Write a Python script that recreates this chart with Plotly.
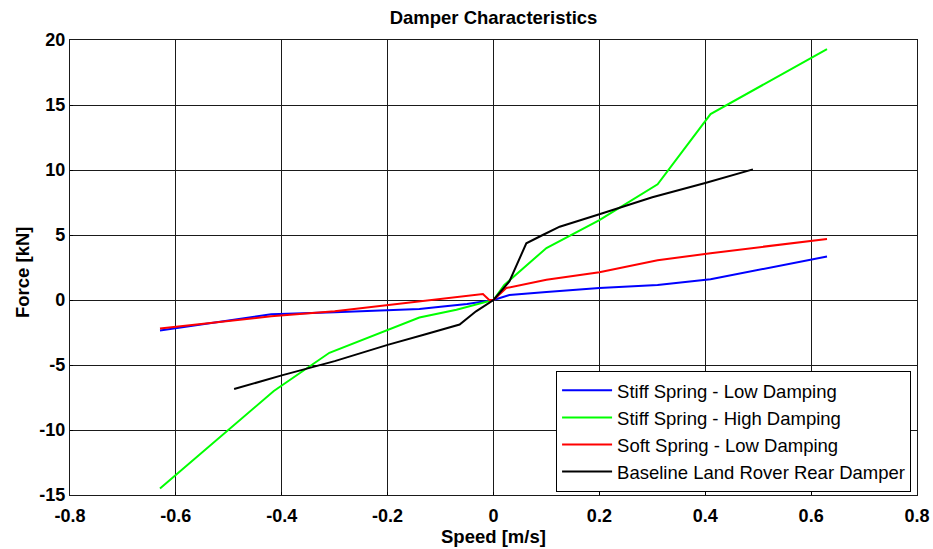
import plotly.graph_objects as go

# Stiff Spring - Low Damping
blue_x = [-0.63, -0.42, -0.30, -0.20, -0.14, -0.10, -0.05, 0.0, 0.03, 0.10, 0.16, 0.20, 0.31, 0.41, 0.63]
blue_y = [-2.35, -1.10, -0.95, -0.82, -0.69, -0.52, -0.30, 0.0, 0.38, 0.62, 0.80, 0.92, 1.15, 1.60, 3.35]

# Stiff Spring - High Damping
green_x = [-0.63, -0.415, -0.31, -0.20, -0.14, -0.07, 0.0, 0.02, 0.10, 0.20, 0.31, 0.41, 0.63]
green_y = [-14.5, -7.0, -4.06, -2.3, -1.35, -0.75, 0.0, 1.15, 4.0, 6.15, 8.9, 14.3, 19.3]

# Soft Spring - Low Damping
red_x = [-0.63, -0.42, -0.30, -0.20, -0.13, -0.02, -0.008, 0.0, 0.024, 0.10, 0.20, 0.31, 0.41, 0.63]
red_y = [-2.2, -1.25, -0.87, -0.38, -0.08, 0.46, 0.0, 0.0, 0.92, 1.55, 2.14, 3.05, 3.6, 4.7]

# Baseline Land Rover Rear Damper
black_x = [-0.49, -0.40, -0.30, -0.20, -0.13, -0.064, -0.033, 0.0, 0.03, 0.062, 0.093, 0.125, 0.20, 0.30, 0.40, 0.49]
black_y = [-6.85, -5.8, -4.7, -3.45, -2.65, -1.89, -0.87, 0.0, 1.43, 4.36, 5.0, 5.64, 6.6, 7.9, 9.0, 10.05]

x_ticks = [-0.8, -0.6, -0.4, -0.2, 0, 0.2, 0.4, 0.6, 0.8]
x_tick_text = ["-0.8", "-0.6", "-0.4", "-0.2", "0", "0.2", "0.4", "0.6", "0.8"]
y_ticks = [-15, -10, -5, 0, 5, 10, 15, 20]

series = [
    ("Stiff Spring - Low Damping", blue_x, blue_y, "#0000ff"),
    ("Stiff Spring - High Damping", green_x, green_y, "#00ff00"),
    ("Soft Spring - Low Damping", red_x, red_y, "#ff0000"),
    ("Baseline Land Rover Rear Damper", black_x, black_y, "#000000"),
]

fig = go.Figure()
for name, xs, ys, col in series:
    fig.add_trace(go.Scatter(x=xs, y=ys, mode="lines", name=name,
                             line=dict(color=col, width=2)))

font_family = "Liberation Sans, Arial, sans-serif"
axis_common = dict(showgrid=True, gridcolor="#1a1a1a", gridwidth=1.4,
                   showline=True, linecolor="#1a1a1a", linewidth=1.4, mirror=True,
                   ticks="inside", ticklen=3, tickcolor="#000000", zeroline=False,
                   automargin=False,
                   tickfont=dict(family=font_family, size=18, color="#000000"))

W, H = 933, 549

fig.update_layout(
    width=W, height=H,
    paper_bgcolor="#ffffff", plot_bgcolor="#ffffff",
    margin=dict(l=70, r=16, t=40, b=54),
    title=dict(text="<b>Damper Characteristics</b>", x=0.5, xref="paper", xanchor="center",
               y=1 - 18 / H, yanchor="middle",
               font=dict(family=font_family, size=18.5, color="#000000")),
    xaxis=dict(range=[-0.8, 0.8], tickvals=x_ticks,
               ticktext=["<b>%s</b>" % t for t in x_tick_text],
               ticklabelstandoff=4,
               **axis_common),
    yaxis=dict(range=[-15, 20], tickvals=y_ticks,
               ticktext=["<b>%d</b>" % t for t in y_ticks],
               **axis_common),
    legend=dict(x=0.993, y=0.007, xanchor="right", yanchor="bottom",
                bgcolor="#ffffff", bordercolor="#000000", borderwidth=1,
                font=dict(family=font_family, size=18.5, color="#000000"),
                tracegroupgap=0, itemwidth=50),
    showlegend=True,
    annotations=[
        dict(text="<b>Speed [m/s]</b>", xref="paper", yref="paper", x=0.5, y=-0.0923,
             xanchor="center", yanchor="middle", showarrow=False,
             font=dict(family=font_family, size=18.5, color="#000000")),
        dict(text="<b>Force [kN]</b>", xref="paper", yref="paper", x=-0.0567, y=0.49,
             xanchor="center", yanchor="middle", showarrow=False, textangle=-90,
             font=dict(family=font_family, size=18.5, color="#000000")),
    ],
)

fig.write_html("out.html",
               config={"displayModeBar": False},
               post_script="document.body.style.margin='0';document.body.style.overflow='hidden';")
